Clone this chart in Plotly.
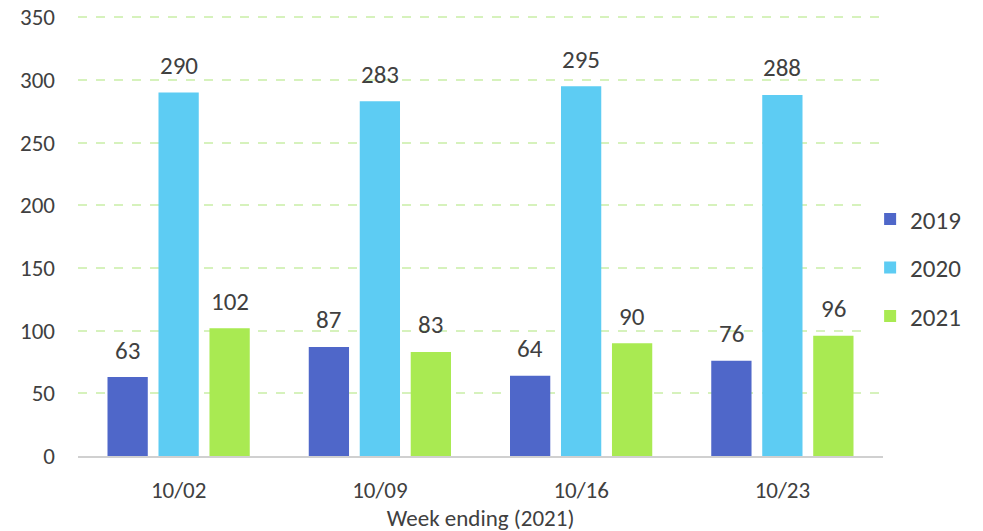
import plotly.graph_objects as go

weeks = ["10/02", "10/09", "10/16", "10/23"]
v2019 = [63, 87, 64, 76]
v2020 = [290, 283, 295, 288]
v2021 = [102, 83, 90, 96]
series_names = ["2019", "2020", "2021"]
colors = ["#4F67C9", "#5DCCF3", "#A9EA52"]
yticks = [0, 50, 100, 150, 200, 250, 300, 350]

font_family = "Carlito, Calibri, Lato, 'Open Sans', sans-serif"
txt = "#404040"
bargap = 0.24
nser = 3

fig = go.Figure()
for name, vals, col in zip(series_names, [v2019, v2020, v2021], colors):
    fig.add_trace(go.Bar(
        x=weeks, y=vals, name=name, marker_color=col, marker_line_width=0,
        cliponaxis=False, legendgroup=name,
    ))

# value labels placed above each bar
slot = (1 - bargap) / nser
for si, vals in enumerate([v2019, v2020, v2021]):
    off = (si - (nser - 1) / 2) * slot
    for ci, v in enumerate(vals):
        fig.add_annotation(x=ci + off, y=v, xref="x", yref="y", text=str(v),
                           showarrow=False, yanchor="middle", yshift=27,
                           font=dict(size=25, color=txt, family=font_family))

fig.update_layout(
    width=983, height=531,
    margin=dict(l=70, r=108, t=8, b=83, autoexpand=False),
    paper_bgcolor="white", plot_bgcolor="white",
    barmode="group", bargap=bargap, bargroupgap=0.21,
    font=dict(family=font_family, color=txt, size=22),
    legend=dict(x=0.984, xanchor="left", y=0.428, yanchor="middle",
                font=dict(size=25, color=txt), tracegroupgap=13,
                itemwidth=30),
    showlegend=True,
)
fig.update_yaxes(range=[0, 351], tickvals=yticks,
                 showgrid=True, griddash="dash",
                 gridcolor="#D6F2BC", gridwidth=1.5, zeroline=False,
                 tickfont=dict(size=23, color=txt), ticklabelstandoff=22,
                 ticklabeloverflow="allow", automargin=False)
fig.update_xaxes(showline=True, linecolor="#D0D0D0", linewidth=2,
                 tickfont=dict(size=23, color=txt), ticklabelstandoff=12,
                 automargin=False,
                 title=dict(text="Week ending (2021)", font=dict(size=23, color=txt), standoff=0))

fig.write_html("out.html")
